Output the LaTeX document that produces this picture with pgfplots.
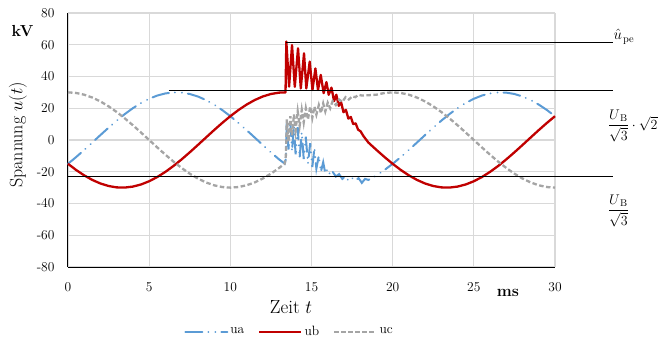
\RequirePackage{fix-cm}
\documentclass[border=0pt]{standalone}
\usepackage{amsmath}
\usepackage{pgfplots}
\pgfplotsset{compat=1.18}
\definecolor{cA}{HTML}{5B9BD5}
\definecolor{cB}{HTML}{C00000}
\definecolor{cC}{HTML}{A5A5A5}
\definecolor{gridc}{HTML}{D9D9D9}
\begin{document}
\begin{tikzpicture}
\begin{axis}[name=ax, scale only axis, width=487pt, height=254pt,
  xmin=0, xmax=30, ymin=-80, ymax=80,
  xtick={0,5,...,30}, ytick={-80,-60,...,80},
  axis x line=bottom, axis y line=left,
  axis line style={-, black, line width=1pt},
  major tick length=0pt,
  grid=major, major grid style={gridc, line width=1.2pt},
  /pgf/number format/assume math mode=true,
  tick label style={font=\fontsize{13.5}{16}\selectfont},
  xticklabel style={yshift=-12pt},
  yticklabel style={xshift=-10pt},
  xlabel={Zeit $t$},
  ylabel={Spannung $u(t)$},
  xlabel style={at={(axis description cs:0.458,-0.157)}, anchor=center, font=\fontsize{19}{22}\selectfont},
  ylabel style={at={(axis description cs:-0.1027,0.52)}, anchor=center, font=\fontsize{18}{21}\selectfont},
  clip=false,
  legend image code/.code={\draw[#1] (0pt,0pt) -- (42pt,0pt);},
  legend style={at={(axis description cs:0.455,-0.2547)}, anchor=center, draw=none, fill=none,
    legend columns=3, font=\fontsize{13.5}{16}\selectfont,
    /tikz/every even column/.append style={column sep=12pt}},
]
\addplot[cA, line width=2pt, line cap=round, dash pattern=on 17pt off 6pt on 0.01pt off 7pt on 0.01pt off 6pt] coordinates {
(0,-15) (0.5,-10.75) (1,-6.24) (1.5,-1.57) (2,3.14) (2.5,7.76) (3,12.20) (3.5,16.34) (4,20.07) (4.5,23.31) (5,25.98) (5.5,28.01) (6,29.34) (6.5,29.96) (7,29.84) (7.5,28.98) (8,27.41) (8.5,25.16) (9,22.29) (9.5,18.88) (10,15) (10.5,10.75) (11,6.24) (11.5,1.57) (12,-3.14) (12.5,-7.76) (13,-12.20) (13.35,-14.9)
(13.42,-12) (13.48,12) (13.58,-6) (13.70,11) (13.80,-7) (13.92,9) (14.02,-9) (14.15,8) (14.27,-11) (14.40,5) (14.52,-12) (14.65,2) (14.78,-15) (14.92,-2) (15.05,-17) (15.18,-5) (15.30,-18) (15.45,-10) (15.58,-20) (15.72,-14) (15.85,-21) (16.0,-18) (16.15,-22) (16.3,-20) (16.5,-23) (16.7,-21.5) (16.9,-24.5) (17.1,-23) (17.3,-26) (17.5,-24) (17.7,-25.5) (17.9,-24) (18.1,-27) (18.3,-24.5) (18.5,-25.16)
(19,-22.29) (19.5,-18.88) (20,-15) (20.5,-10.75) (21,-6.24) (21.5,-1.57) (22,3.14) (22.5,7.76) (23,12.20) (23.5,16.34) (24,20.07) (24.5,23.31) (25,25.98) (25.5,28.01) (26,29.34) (26.5,29.96) (27,29.84) (27.5,28.98) (28,27.41) (28.5,25.16) (29,22.29) (29.5,18.88) (30,15)
};
\addlegendentry{ua}
\addplot[cB, line width=2.3pt, line join=round] coordinates {
(0,-15) (0.5,-18.88) (1,-22.29) (1.5,-25.16) (2,-27.41) (2.5,-28.98) (3,-29.84) (3.5,-29.96) (4,-29.34) (4.5,-28.01) (5,-25.98) (5.5,-23.31) (6,-20.07) (6.5,-16.34) (7,-12.20) (7.5,-7.76) (8,-3.14) (8.5,1.57) (9,6.24) (9.5,10.75) (10,15) (10.5,18.88) (11,22.29) (11.5,25.16) (12,27.41) (12.5,28.98) (13,29.84) (13.4,30)
(13.45,62.0) (13.62,33.6) (13.80,59.8) (13.97,33.5) (14.17,57.8) (14.34,32.5) (14.54,54.6) (14.68,32.5) (14.89,49.4) (15.06,31.5) (15.24,45.1) (15.40,31.5) (15.57,41.0) (15.75,29.5) (15.92,36.5) (16.06,28.5) (16.23,33.0) (16.39,24.5) (16.53,28.5) (16.68,21.5) (16.82,24.0) (16.97,17.5) (17.12,19.0) (17.27,13.5) (17.42,14.5) (17.57,10.0) (17.72,10.5) (17.87,6.5) (18.02,5.5) (18.2,2.5) (18.5,-1.57)
(19,-6.24) (19.5,-10.75) (20,-15) (20.5,-18.88) (21,-22.29) (21.5,-25.16) (22,-27.41) (22.5,-28.98) (23,-29.84) (23.5,-29.96) (24,-29.34) (24.5,-28.01) (25,-25.98) (25.5,-23.31) (26,-20.07) (26.5,-16.34) (27,-12.20) (27.5,-7.76) (28,-3.14) (28.5,1.57) (29,6.24) (29.5,10.75) (30,15)
};
\addlegendentry{ub}
\addplot[cC, line width=2.3pt, dash pattern=on 4.5pt off 2.5pt] coordinates {
(0,30) (0.5,29.63) (1,28.53) (1.5,26.73) (2,24.27) (2.5,21.21) (3,17.63) (3.5,13.62) (4,9.27) (4.5,4.69) (5,0) (5.5,-4.69) (6,-9.27) (6.5,-13.62) (7,-17.63) (7.5,-21.21) (8,-24.27) (8.5,-26.73) (9,-28.53) (9.5,-29.63) (10,-30) (10.5,-29.63) (11,-28.53) (11.5,-26.73) (12,-24.27) (12.5,-21.21) (13,-17.63) (13.35,-14.87)
(13.42,-10) (13.48,13) (13.58,-1) (13.70,15) (13.80,3) (13.92,16) (14.02,6) (14.15,18) (14.27,9) (14.40,19) (14.52,11) (14.65,20) (14.78,13) (14.92,21) (15.05,14) (15.18,21) (15.30,16) (15.45,22) (15.58,17) (15.72,23) (15.85,18) (16.0,23.5) (16.15,20) (16.3,24.5) (16.5,22) (16.7,25.5) (16.9,24) (17.1,27) (17.3,25.5) (17.5,27.5) (17.7,27) (17.9,28.5) (18.1,28) (18.5,28.2)
(19,28.53) (19.5,29.63) (20,30) (20.5,29.63) (21,28.53) (21.5,26.73) (22,24.27) (22.5,21.21) (23,17.63) (23.5,13.62) (24,9.27) (24.5,4.69) (25,0) (25.5,-4.69) (26,-9.27) (26.5,-13.62) (27,-17.63) (27.5,-21.21) (28,-24.27) (28.5,-26.73) (29,-28.53) (29.5,-29.63) (30,-30)
};
\addlegendentry{uc}
\addplot[black, line width=1pt, forget plot] coordinates {(13.45,61.7) (33.58,61.7)};
\addplot[black, line width=1pt, forget plot] coordinates {(6.2,30.9) (33.58,30.9)};
\addplot[black, line width=1pt, forget plot] coordinates {(0,-22.7) (33.58,-22.7)};
\node[anchor=base west, inner sep=0pt, font=\fontsize{15}{17}\selectfont] at (axis cs:33.6,63) {$\hat{u}_{\kern1pt\mathrm{pe}}$};
\node[anchor=west, inner sep=0pt, font=\fontsize{14}{16}\selectfont] at (axis cs:33.25,8.8) {$\dfrac{U_{\kern1.5pt\mathrm{B}}}{\sqrt{3}}\cdot\sqrt{2}$};
\node[anchor=west, inner sep=0pt, font=\fontsize{14}{16}\selectfont] at (axis cs:33.25,-44.8) {$\dfrac{U_{\kern1.5pt\mathrm{B}}}{\sqrt{3}}$};
\node[font=\fontsize{16}{18}\selectfont\bfseries] at (axis cs:-2.8,68.8) {kV};
\node[font=\fontsize{16}{18}\selectfont\bfseries] at (axis cs:27.1,-96.2) {ms};
\end{axis}
\path ([xshift=-68pt,yshift=-70pt]ax.south west) rectangle ([xshift=116pt,yshift=13pt]ax.north east);
\end{tikzpicture}
\end{document}
